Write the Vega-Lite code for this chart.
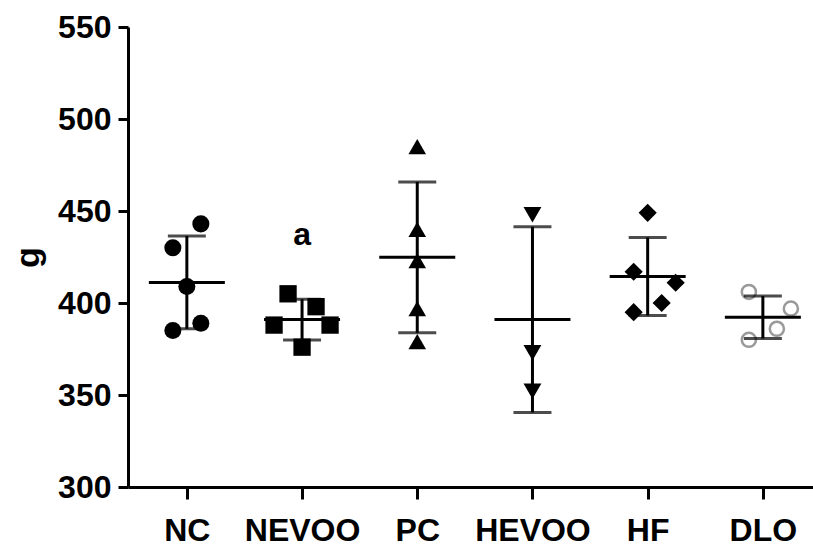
{
  "$schema": "https://vega.github.io/schema/vega-lite/v6.json",
  "autosize": "none",
  "width": 685,
  "height": 460,
  "padding": {"left": 128, "top": 27, "right": 0, "bottom": 59},
  "background": "white",
  "config": {
    "view": {"stroke": null},
    "font": "Liberation Sans",
    "axis": {
      "domainColor": "black",
      "domainWidth": 3,
      "tickColor": "black",
      "tickWidth": 3,
      "labelColor": "black",
      "labelFont": "Liberation Sans",
      "labelFontWeight": "bold",
      "titleFont": "Liberation Sans",
      "titleFontWeight": "bold",
      "titleColor": "black",
      "grid": false
    }
  },
  "data": {
    "values": [
      {"group": "NC", "lane": 1, "value": 443},
      {"group": "NC", "lane": -1, "value": 430},
      {"group": "NC", "lane": 0, "value": 409},
      {"group": "NC", "lane": -1, "value": 385},
      {"group": "NC", "lane": 1, "value": 389},
      {"group": "NEVOO", "lane": -1, "value": 405},
      {"group": "NEVOO", "lane": 1, "value": 398},
      {"group": "NEVOO", "lane": -2, "value": 388},
      {"group": "NEVOO", "lane": 2, "value": 388},
      {"group": "NEVOO", "lane": 0, "value": 376},
      {"group": "PC", "lane": 0, "value": 485},
      {"group": "PC", "lane": 0, "value": 440},
      {"group": "PC", "lane": 0, "value": 423},
      {"group": "PC", "lane": 0, "value": 397},
      {"group": "PC", "lane": 0, "value": 379},
      {"group": "HEVOO", "lane": 0, "value": 448},
      {"group": "HEVOO", "lane": 0, "value": 373},
      {"group": "HEVOO", "lane": 0, "value": 352},
      {"group": "HF", "lane": 0, "value": 449},
      {"group": "HF", "lane": -1, "value": 417},
      {"group": "HF", "lane": 2, "value": 411},
      {"group": "HF", "lane": 1, "value": 400},
      {"group": "HF", "lane": -1, "value": 395},
      {"group": "DLO", "lane": -1, "value": 406},
      {"group": "DLO", "lane": 2, "value": 397},
      {"group": "DLO", "lane": 1, "value": 386},
      {"group": "DLO", "lane": -1, "value": 380}
    ]
  },
  "encoding": {
    "x": {
      "field": "group",
      "type": "nominal",
      "scale": {"type": "point", "domain": ["NC", "NEVOO", "PC", "HEVOO", "HF", "DLO"], "padding": 0.473, "align": 0.54},
      "axis": {"title": null, "labelAngle": 0, "labelFontSize": 32, "tickSize": 12, "labelPadding": 16}
    },
    "y": {
      "field": "value",
      "type": "quantitative",
      "scale": {"domain": [300, 550], "nice": false, "zero": false},
      "axis": {"title": "g", "values": [300, 350, 400, 450, 500, 550], "labelFontSize": 32, "tickSize": 10, "labelPadding": 7, "titleFontSize": 34, "titlePadding": 12}
    }
  },
  "layer": [
    {
      "transform": [{"filter": "datum.group !== 'DLO'"}],
      "mark": {"type": "point", "filled": true, "color": "black", "opacity": 1, "strokeWidth": 0},
      "encoding": {
        "xOffset": {"field": "lane", "type": "quantitative", "scale": {"domain": [-2, 2], "range": [-28, 28]}},
        "shape": {"field": "group", "type": "nominal", "legend": null, "scale": {"domain": ["NC", "NEVOO", "PC", "HEVOO", "HF"], "range": ["circle", "square", "triangle-up", "triangle-down", "diamond"]}},
        "size": {"field": "group", "type": "nominal", "legend": null, "scale": {"domain": ["NC", "NEVOO", "PC", "HEVOO", "HF"], "range": [290, 330, 400, 400, 400]}}
      }
    },
    {
      "transform": [{"filter": "datum.group === 'DLO'"}],
      "mark": {"type": "point", "shape": "circle", "filled": false, "stroke": "#9a9a9a", "strokeWidth": 2.5, "opacity": 1, "size": 200},
      "encoding": {
        "xOffset": {"field": "lane", "type": "quantitative", "scale": {"domain": [-2, 2], "range": [-28, 28]}}
      }
    },
    {
      "mark": {"type": "errorbar", "extent": "stdev", "color": "black", "ticks": {"size": 38, "thickness": 3, "color": "black"}, "rule": {"strokeWidth": 3, "color": "black"}},
      "encoding": {}
    },
    {
      "mark": {"type": "tick", "color": "black", "size": 76, "thickness": 3, "opacity": 1},
      "encoding": {"y": {"aggregate": "mean", "field": "value", "type": "quantitative"}}
    },
    {
      "data": {"values": [{"group": "NEVOO", "value": 431.5, "label": "a"}]},
      "mark": {"type": "text", "fontSize": 32, "fontWeight": "bold", "color": "black", "baseline": "alphabetic", "align": "center"},
      "encoding": {"text": {"field": "label"}}
    }
  ]
}
